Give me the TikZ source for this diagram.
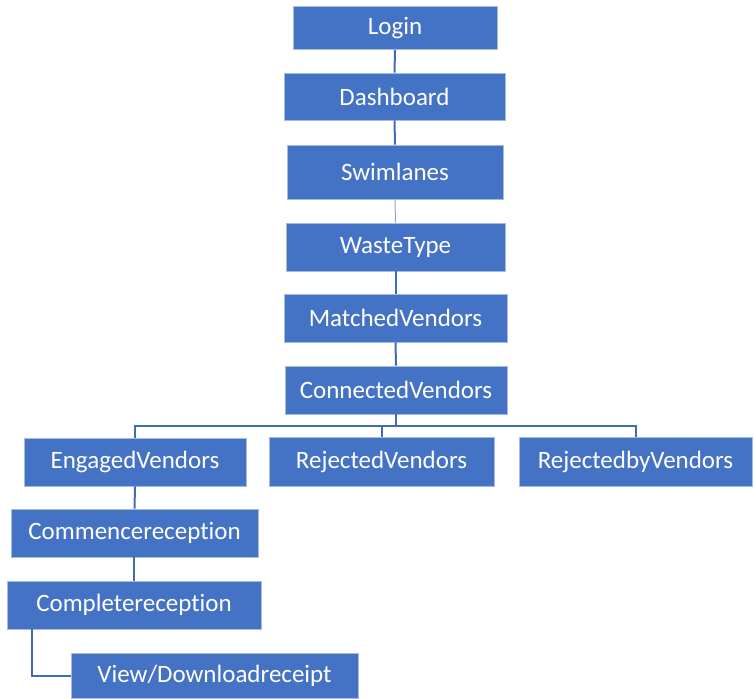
\documentclass[tikz,border=0pt]{standalone}
\usepackage{fontspec}
\setmainfont{Carlito}[Ligatures={NoCommon}]
\definecolor{boxblue}{HTML}{4472C4}
\definecolor{edgeblue}{HTML}{A4BBE4}
\definecolor{lineblue}{HTML}{3F6BB8}
\begin{document}
\begin{tikzpicture}[x=1pt,y=-1pt,
  box/.style={rectangle, fill=boxblue, draw=edgeblue, line width=0.8pt, text=white,
    font=\fontsize{25}{28}\selectfont, inner sep=0pt},
  conn/.style={draw=lineblue, line width=2pt},
  thinconn/.style={draw=lineblue!60, line width=1pt}]
\useasboundingbox (0,0) rectangle (754,698);
\node[box, minimum width=204pt, minimum height=43pt] (login) at (395,28.3) {Login};
\node[box, minimum width=221pt, minimum height=47pt] (dash) at (394.5,96.5) {Dashboard};
\node[box, minimum width=216pt, minimum height=54pt] (swim) at (395,172) {Swimlanes};
\node[box, minimum width=219pt, minimum height=48pt] (waste) at (395.5,247) {WasteType};
\node[box, minimum width=223pt, minimum height=48pt] (match) at (395.5,318) {MatchedVendors};
\node[box, minimum width=222pt, minimum height=48pt] (connv) at (396,390) {ConnectedVendors};
\node[box, minimum width=222pt, minimum height=48pt] (eng) at (135,462) {EngagedVendors};
\node[box, minimum width=225pt, minimum height=49pt] (rej) at (381.5,461.5) {RejectedVendors};
\node[box, minimum width=233pt, minimum height=49pt] (rejby) at (635.5,461.5) {RejectedbyVendors};
\node[box, minimum width=247pt, minimum height=48pt] (comm) at (134.5,533) {Commencereception};
\node[box, minimum width=254pt, minimum height=48pt] (comp) at (134,605) {Completereception};
\node[box, minimum width=287pt, minimum height=45pt] (view) at (214.5,675.5) {View/Downloadreceipt};
\coordinate (bus) at (396,426);
\draw[conn] (login.south) -- (dash.north);
\draw[conn] (dash.south) -- (swim.north);
\draw[thinconn] (swim.south) -- (waste.north);
\draw[conn] (waste.south) -- (match.north);
\draw[conn] (match.south) -- (connv.north);
\draw[conn] (connv.south) -- (connv.south |- bus);
\draw[conn] (eng.north) -- (eng.north |- bus) -- (rejby.north |- bus) -- (rejby.north);
\draw[conn] (rej.north) -- (rej.north |- bus);
\draw[conn] (eng.south) -- (comm.north);
\draw[conn] (comm.south) -- (comp.south |- comm.south) -- (comp.north);
\coordinate (elb) at ([xshift=-102pt]comp.south);
\draw[conn] (elb) |- (view.west);
\end{tikzpicture}
\end{document}
